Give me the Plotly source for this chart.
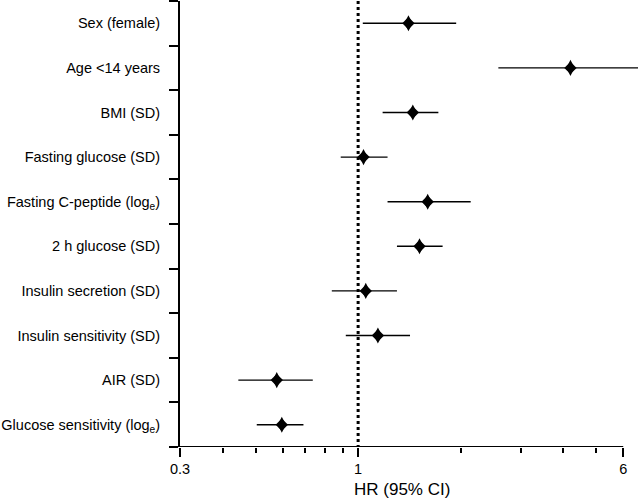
import math
import plotly.graph_objects as go

labels = ["Sex (female)", "Age <14 years", "BMI (SD)", "Fasting glucose (SD)",
          "Fasting C-peptide (log<sub>e</sub>)", "2 h glucose (SD)",
          "Insulin secretion (SD)", "Insulin sensitivity (SD)", "AIR (SD)",
          "Glucose sensitivity (log<sub>e</sub>)"]
hr = [1.405, 4.20, 1.447, 1.037, 1.60, 1.514, 1.053, 1.143, 0.577, 0.597]
ci_low = [1.032, 2.58, 1.18, 0.889, 1.22, 1.30, 0.837, 0.920, 0.445, 0.504]
ci_high = [1.94, 7.2, 1.72, 1.22, 2.14, 1.77, 1.30, 1.42, 0.736, 0.691]

x_ticks = [0.3, 1, 6]
x_minor = [0.4, 0.5, 0.6, 0.7, 0.8, 0.9, 2, 3, 4, 5]
x_min, x_max = 0.3, 6.63
ref_value = 1

ypos = list(range(len(labels)))
FONT = "Liberation Sans, Arial, sans-serif"

fig = go.Figure()

fig.add_trace(go.Scatter(
    x=hr, y=ypos, mode="markers",
    marker=dict(symbol="diamond", size=9.5, color="black", line=dict(width=0)),
    error_x=dict(type="data", symmetric=False,
                 array=[h - m for h, m in zip(ci_high, hr)],
                 arrayminus=[m - l for m, l in zip(hr, ci_low)],
                 color="black", thickness=1.4, width=0),
    showlegend=False, cliponaxis=True,
))
# taller diamond overlay to match the elongated marker shape
fig.add_trace(go.Scatter(
    x=hr, y=ypos, mode="markers",
    marker=dict(symbol="diamond-tall", size=11.5, color="black", line=dict(width=0)),
    showlegend=False, cliponaxis=True, hoverinfo="skip",
))

# x axis baseline from 0.3 to 6
fig.add_trace(go.Scatter(
    x=[x_ticks[0], x_ticks[-1]], y=[len(labels) - 0.5, len(labels) - 0.5],
    mode="lines", line=dict(color="black", width=2), showlegend=False,
    cliponaxis=False, hoverinfo="skip",
))

# reference dotted line at HR = 1
fig.add_trace(go.Scatter(
    x=[ref_value, ref_value], y=[-0.5, len(labels) - 0.5],
    mode="lines", line=dict(color="black", width=3, dash="dot"),
    showlegend=False, cliponaxis=False, hoverinfo="skip",
))

fig.update_layout(
    width=638, height=504,
    margin=dict(l=180, r=0, t=1, b=57, autoexpand=False),
    plot_bgcolor="white", paper_bgcolor="white",
    font=dict(family=FONT, size=14.5, color="black"),
    xaxis=dict(
        type="log", range=[math.log10(x_min), math.log10(x_max)],
        automargin=False,
        tickmode="array", tickvals=x_ticks, ticktext=[str(v) for v in x_ticks],
        ticks="outside", ticklen=9, tickwidth=2, tickcolor="black",
        showline=False, showgrid=False, zeroline=False,
        minor=dict(tickmode="array", tickvals=x_minor, ticks="outside",
                   ticklen=5, tickwidth=2, tickcolor="black", showgrid=False),
        tickfont=dict(size=14.5),
    ),
    yaxis=dict(
        range=[len(labels) - 0.5, -0.5],
        automargin=False,
        tickmode="array", tickvals=ypos, ticktext=labels,
        ticks="outside", ticklen=15, tickcolor="rgba(0,0,0,0)",
        showline=True, linecolor="black", linewidth=2,
        showgrid=False, zeroline=False,
        minor=dict(tickmode="array", tickvals=[i - 0.5 for i in range(len(labels) + 1)],
                   ticks="outside", ticklen=9, tickwidth=2, tickcolor="black",
                   showgrid=False),
        tickfont=dict(size=14.5),
    ),
    annotations=[dict(
        text="HR (95% CI)", x=(math.log10(x_ticks[0]) + math.log10(x_ticks[-1])) / 2,
        xref="x", y=0, yref="paper", yanchor="top", yshift=-31,
        showarrow=False, font=dict(size=17, family=FONT, color="black"),
    )],
)

fig.write_html("out.html", config={"displayModeBar": False},
               post_script="document.body.style.margin='0px';document.body.style.overflow='hidden';")
